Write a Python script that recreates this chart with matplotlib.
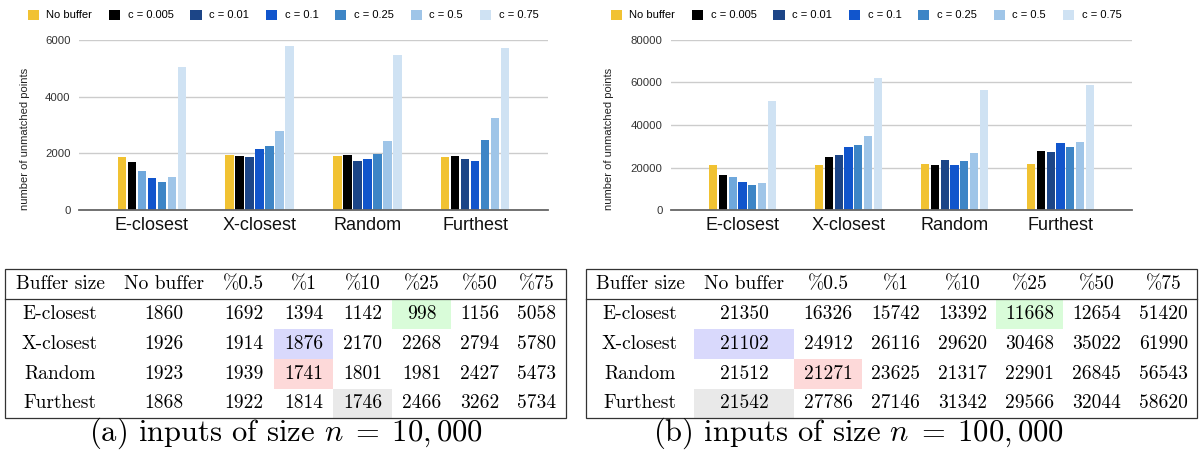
import matplotlib
matplotlib.use("Agg")
import matplotlib.pyplot as plt
from matplotlib.patches import Patch, Rectangle
import numpy as np

plt.rcParams['mathtext.fontset'] = 'cm'

W, H = 1202, 455

# ---------------- data ----------------
categories = ["E-closest", "X-closest", "Random", "Furthest"]
series_labels = ["No buffer", "c = 0.005", "c = 0.01", "c = 0.1", "c = 0.25", "c = 0.5", "c = 0.75"]
header = ["Buffer size", "No buffer", "%0.5", "%1", "%10", "%25", "%50", "%75"]

e_closest_10k = [1860, 1692, 1394, 1142, 998, 1156, 5058]
x_closest_10k = [1926, 1914, 1876, 2170, 2268, 2794, 5780]
random_10k = [1923, 1939, 1741, 1801, 1981, 2427, 5473]
furthest_10k = [1868, 1922, 1814, 1746, 2466, 3262, 5734]

e_closest_100k = [21350, 16326, 15742, 13392, 11668, 12654, 51420]
x_closest_100k = [21102, 24912, 26116, 29620, 30468, 35022, 61990]
random_100k = [21512, 21271, 23625, 21317, 22901, 26845, 56543]
furthest_100k = [21542, 27786, 27146, 31342, 29566, 32044, 58620]

yticks_10k = [0, 2000, 4000, 6000]
yticks_100k = [0, 20000, 40000, 60000, 80000]

# highlighted table cells: (row, column, colour key)
highlights_10k = [(0, 5, "green"), (1, 3, "blue"), (2, 3, "red"), (3, 4, "gray")]
highlights_100k = [(0, 5, "green"), (1, 1, "blue"), (2, 2, "red"), (3, 1, "gray")]

caption_10k = r"(a) inputs of size $n\;=\;10,000$"
caption_100k = r"(b) inputs of size $n\;=\;100,000$"

# ---------------- style ----------------
series_colors = ["#f1c232", "#000000", "#1c4587", "#1155cc", "#3d85c6", "#9fc5e8", "#cfe2f3"]
odd_bar_color = "#6fa8dc"   # E-closest, c = 0.01 drawn lighter in the source
cell_colors = {"green": "#d9fcd9", "blue": "#d9d9fc", "red": "#fdd9d9", "gray": "#e9e9e9"}
sans = "Liberation Sans"
serif = ["cmr10", "DejaVu Serif"]

fig = plt.figure(figsize=(W / 100, H / 100), dpi=100)


def px_axes(x0, x1, y0, y1):
    return fig.add_axes([x0 / W, 1 - y1 / H, (x1 - x0) / W, (y1 - y0) / H])


def bar_chart(ax, rows, yticks, ylabel_x):
    n = len(series_labels)
    pitch, bw = 0.0926, 0.078
    x = np.arange(len(categories))
    for j in range(n):
        heights = [r[j] for r in rows]
        bars = ax.bar(x + (j - (n - 1) / 2) * pitch, heights, width=bw,
                      color=series_colors[j], zorder=3, linewidth=0)
        if j == 2:
            bars[0].set_color(odd_bar_color)
    ax.set_xlim(-0.675, len(categories) - 1 + 0.675)
    ax.set_ylim(yticks[0], yticks[-1])
    ax.set_yticks(yticks)
    ax.set_xticks(x)
    ax.set_xticklabels(categories, fontsize=13, family=sans, color="#111111")
    ax.tick_params(axis="x", length=0, pad=5)
    ax.tick_params(axis="y", length=0, pad=6, labelsize=8.2, labelcolor="#333333")
    for lab in ax.get_yticklabels():
        lab.set_family(sans)
    ax.grid(axis="y", color="#cccccc", linewidth=1.0, zorder=0)
    for s in ["top", "right", "left"]:
        ax.spines[s].set_visible(False)
    ax.spines["bottom"].set_color("#666666")
    ax.spines["bottom"].set_linewidth(1.3)
    ax.spines["bottom"].set_zorder(4)
    ax.set_ylabel("number of unmatched points", fontsize=8, family=sans, color="#222222")
    ax.yaxis.set_label_coords(ylabel_x, 0.42)


ax1 = px_axes(79, 548, 40, 210)
bar_chart(ax1, [e_closest_10k, x_closest_10k, random_10k, furthest_10k], yticks_10k, -0.105)
ax2 = px_axes(671, 1132, 40, 210)
bar_chart(ax2, [e_closest_100k, x_closest_100k, random_100k, furthest_100k], yticks_100k, -0.124)

handles = [Patch(facecolor=c, edgecolor="none") for c in series_colors]
for cx in (283 / W, 866 / W):
    fig.legend(handles, series_labels, loc="center", bbox_to_anchor=(cx, 1 - 15 / H),
               ncol=len(series_labels), frameon=False, prop={"family": sans, "size": 8},
               handlelength=1.0, handleheight=1.0, handletextpad=0.7, columnspacing=1.5,
               borderaxespad=0, borderpad=0)

# ---------------- tables ----------------
ov = fig.add_axes([0, 0, 1, 1])
ov.set_xlim(0, W)
ov.set_ylim(H, 0)
ov.axis("off")

row_edges = [269, 299, 329, 359, 389, 418]


def draw_table(col_edges, rows, highlights, caption, caption_x):
    x0, x1 = col_edges[0], col_edges[-1]
    for (r, c, key) in highlights:
        ov.add_patch(Rectangle((col_edges[c], row_edges[r + 1]),
                               col_edges[c + 1] - col_edges[c],
                               row_edges[r + 2] - row_edges[r + 1],
                               facecolor=cell_colors[key], edgecolor="none", zorder=1))
    ov.add_patch(Rectangle((x0, row_edges[0]), x1 - x0, row_edges[-1] - row_edges[0],
                           facecolor="none", edgecolor="#333333", linewidth=0.9, zorder=3))
    ov.plot([x0, x1], [row_edges[1], row_edges[1]], color="#333333", linewidth=0.9, zorder=3)
    centers = [(col_edges[i] + col_edges[i + 1]) / 2 for i in range(len(col_edges) - 1)]
    ycent = [(row_edges[i] + row_edges[i + 1]) / 2 for i in range(len(row_edges) - 1)]
    for c, txt in enumerate(header):
        ov.text(centers[c], ycent[0], txt, ha="center", va="center", fontsize=14,
                family=serif, zorder=4)
    for r, (name, vals) in enumerate(zip(categories, rows)):
        ov.text(centers[0], ycent[r + 1], name, ha="center", va="center", fontsize=14,
                family=serif, zorder=4)
        for c, v in enumerate(vals):
            ov.text(centers[c + 1], ycent[r + 1], str(v), ha="center", va="center",
                    fontsize=14, family=serif, zorder=4)
    ov.text(caption_x, 433, caption, ha="center", va="center", fontsize=22,
            family=serif, zorder=4)


draw_table([5, 115, 213, 274, 333, 392, 451, 508, 566],
           [e_closest_10k, x_closest_10k, random_10k, furthest_10k], highlights_10k,
           caption_10k, 286)
draw_table([586, 694, 794, 862, 929, 996, 1063, 1130, 1197],
           [e_closest_100k, x_closest_100k, random_100k, furthest_100k], highlights_100k,
           caption_100k, 858)

fig.savefig("out.png", dpi=100)
